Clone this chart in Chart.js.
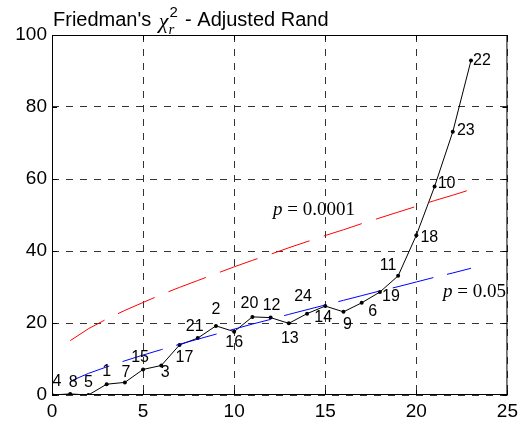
<!DOCTYPE html>
<html lang="en">
<head>
<meta charset="UTF-8">
<title>Friedman's chi2 - Adjusted Rand</title>
<script src="https://cdn.jsdelivr.net/npm/chart.js"></script>
<style>
 html, body { margin: 0; padding: 0; background: #fff; }
 #wrap { width: 523px; height: 424px; }
</style>
</head>
<body>
<div id="wrap"><canvas id="chart" width="523" height="424"></canvas></div>
<script>
// observed statistic, one point per position 0..23
let positions = [0,1,2,3,4,5,6,7,8,9,10,11,12,13,14,15,16,17,18,19,20,21,22,23];
let pointNames = ["4","8","5","1","7","15","3","17","21","2","16","20","12","13","24","14","9","6","19","11","18","10","23","22"];
let statValues = [0,0.3,0,3.0,3.5,7.1,8.2,13.9,15.8,19.2,17.6,21.7,21.5,19.9,22.6,24.7,23.1,25.6,28.6,33.1,44.4,57.9,73.1,92.9];

// critical values, positions 1..23
let critX = [1,2,3,4,5,6,7,8,9,10,11,12,13,14,15,16,17,18,19,20,21,22,23];
let crit0001 = [15.1,18.4,21.1,23.5,25.7,27.9,29.9,31.8,33.7,35.6,37.4,39.1,40.9,42.6,44.3,45.9,47.6,49.2,50.8,52.4,54.0,55.5,57.1];
let crit05 = [3.8,6.0,7.8,9.5,11.1,12.6,14.1,15.5,16.9,18.3,19.7,21.0,22.4,23.7,25.0,26.3,27.6,28.9,30.1,31.4,32.7,33.9,35.2];

let xTicks = [0,5,10,15,20,25];
let yTicks = [0,20,40,60,80,100];

// label nudges in pixels (dx, dy) from each point
let labelDx = [5,3,0,0,1,-3,4,5,-3,0,0,-3,1,1,-4,-2,4,11,11,-10,13,12,13,11];
let labelDy = [-13,-11,-12,-13,-10,-12,7,13,-12,-16,11,-13,-12,15,-17,12,13,9,5,-10,2,-3,-1,0];

const sans = "'Liberation Sans', Arial, sans-serif";
const serif = "'Liberation Serif', 'Times New Roman', serif";

function pts(xs, ys) { return xs.map((x, i) => ({ x: x, y: ys[i] })); }

const extras = {
  id: 'extras',
  afterDatasetsDraw(chart) {
    const ctx = chart.ctx;
    const a = chart.chartArea;
    const sx = chart.scales.x, sy = chart.scales.y;

    // frame and inward ticks
    ctx.save();
    ctx.strokeStyle = '#000';
    ctx.lineWidth = 1;
    ctx.setLineDash([]);
    ctx.strokeRect(a.left + 0.5, a.top + 0.5, a.right - a.left - 1, a.bottom - a.top - 1);
    ctx.beginPath();
    xTicks.forEach(v => {
      const px = Math.round(sx.getPixelForValue(v)) + 0.5;
      ctx.moveTo(px, a.bottom); ctx.lineTo(px, a.bottom - 5);
      ctx.moveTo(px, a.top); ctx.lineTo(px, a.top + 5);
    });
    yTicks.forEach(v => {
      const py = Math.round(sy.getPixelForValue(v)) + 0.5;
      ctx.moveTo(a.left, py); ctx.lineTo(a.left + 5, py);
      ctx.moveTo(a.right, py); ctx.lineTo(a.right - 5, py);
    });
    ctx.stroke();

    // point labels
    const meta = chart.getDatasetMeta(2);
    ctx.fillStyle = '#000';
    ctx.font = '16px ' + sans;
    ctx.textAlign = 'center';
    ctx.textBaseline = 'middle';
    meta.data.forEach((el, i) => {
      ctx.fillText(pointNames[i], el.x + labelDx[i], el.y + labelDy[i]);
    });

    // p annotations
    function pText(str, x, y) {
      ctx.textAlign = 'left';
      ctx.textBaseline = 'alphabetic';
      ctx.font = 'italic 19px ' + serif;
      ctx.fillText('p', x, y);
      const w = ctx.measureText('p').width;
      ctx.font = '19px ' + serif;
      ctx.fillText(' = ' + str, x + w, y);
    }
    pText('0.0001', 273, 215);
    pText('0.05', 443, 297);

    // title
    let x = 53;
    const base = 26;
    ctx.textAlign = 'left';
    ctx.textBaseline = 'alphabetic';
    ctx.font = '20px ' + sans;
    ctx.fillText("Friedman's ", x, base);
    x += ctx.measureText("Friedman's ").width + 2;
    ctx.font = 'italic 22px ' + serif;
    ctx.fillText('\u03c7', x, base + 2);
    x += ctx.measureText('\u03c7').width;
    ctx.font = '15px ' + sans;
    ctx.fillText('2', x + 1, base - 9);
    ctx.font = 'italic 15px ' + serif;
    ctx.fillText('r', x, base + 8);
    x += 11;
    ctx.font = '20px ' + sans;
    ctx.fillText(' - Adjusted Rand', x, base);
    ctx.restore();
  }
};

new Chart(document.getElementById('chart'), {
  type: 'line',
  data: {
    datasets: [
      {
        label: 'p = 0.0001',
        data: pts(critX, crit0001),
        borderColor: '#ff0000',
        borderWidth: 1,
        borderDash: [40, 15],
        pointRadius: 0,
        fill: false
      },
      {
        label: 'p = 0.05',
        data: pts(critX, crit05),
        borderColor: '#0000ff',
        borderWidth: 1,
        borderDash: [42, 14],
        pointRadius: 0,
        fill: false
      },
      {
        label: 'statistic',
        data: pts(positions, statValues),
        borderColor: '#000',
        borderWidth: 1,
        pointRadius: 2,
        pointBackgroundColor: '#000',
        pointBorderColor: '#000',
        pointBorderWidth: 0,
        fill: false
      }
    ]
  },
  options: {
    responsive: false,
    animation: false,
    layout: { padding: { left: 0, top: 35, right: 14, bottom: 0 } },
    plugins: { legend: { display: false }, tooltip: { enabled: false }, title: { display: false } },
    scales: {
      x: {
        type: 'linear',
        min: 0, max: 25,
        afterFit: s => { s.height = 29; },
        afterBuildTicks: s => { s.ticks = xTicks.map(v => ({ value: v })); },
        ticks: { color: '#000', font: { family: sans, size: 19 }, padding: 5, maxRotation: 0 },
        grid: { color: '#333', lineWidth: 1, drawTicks: false },
        border: { display: false, dash: [7, 7] }
      },
      y: {
        min: 0, max: 100,
        afterFit: s => { s.width = 52; },
        afterBuildTicks: s => { s.ticks = yTicks.map(v => ({ value: v })); },
        ticks: { color: '#000', font: { family: sans, size: 19 }, padding: 5 },
        grid: { color: '#333', lineWidth: 1, drawTicks: false },
        border: { display: false, dash: [7, 7] }
      }
    }
  },
  plugins: [extras]
});
</script>
</body>
</html>
